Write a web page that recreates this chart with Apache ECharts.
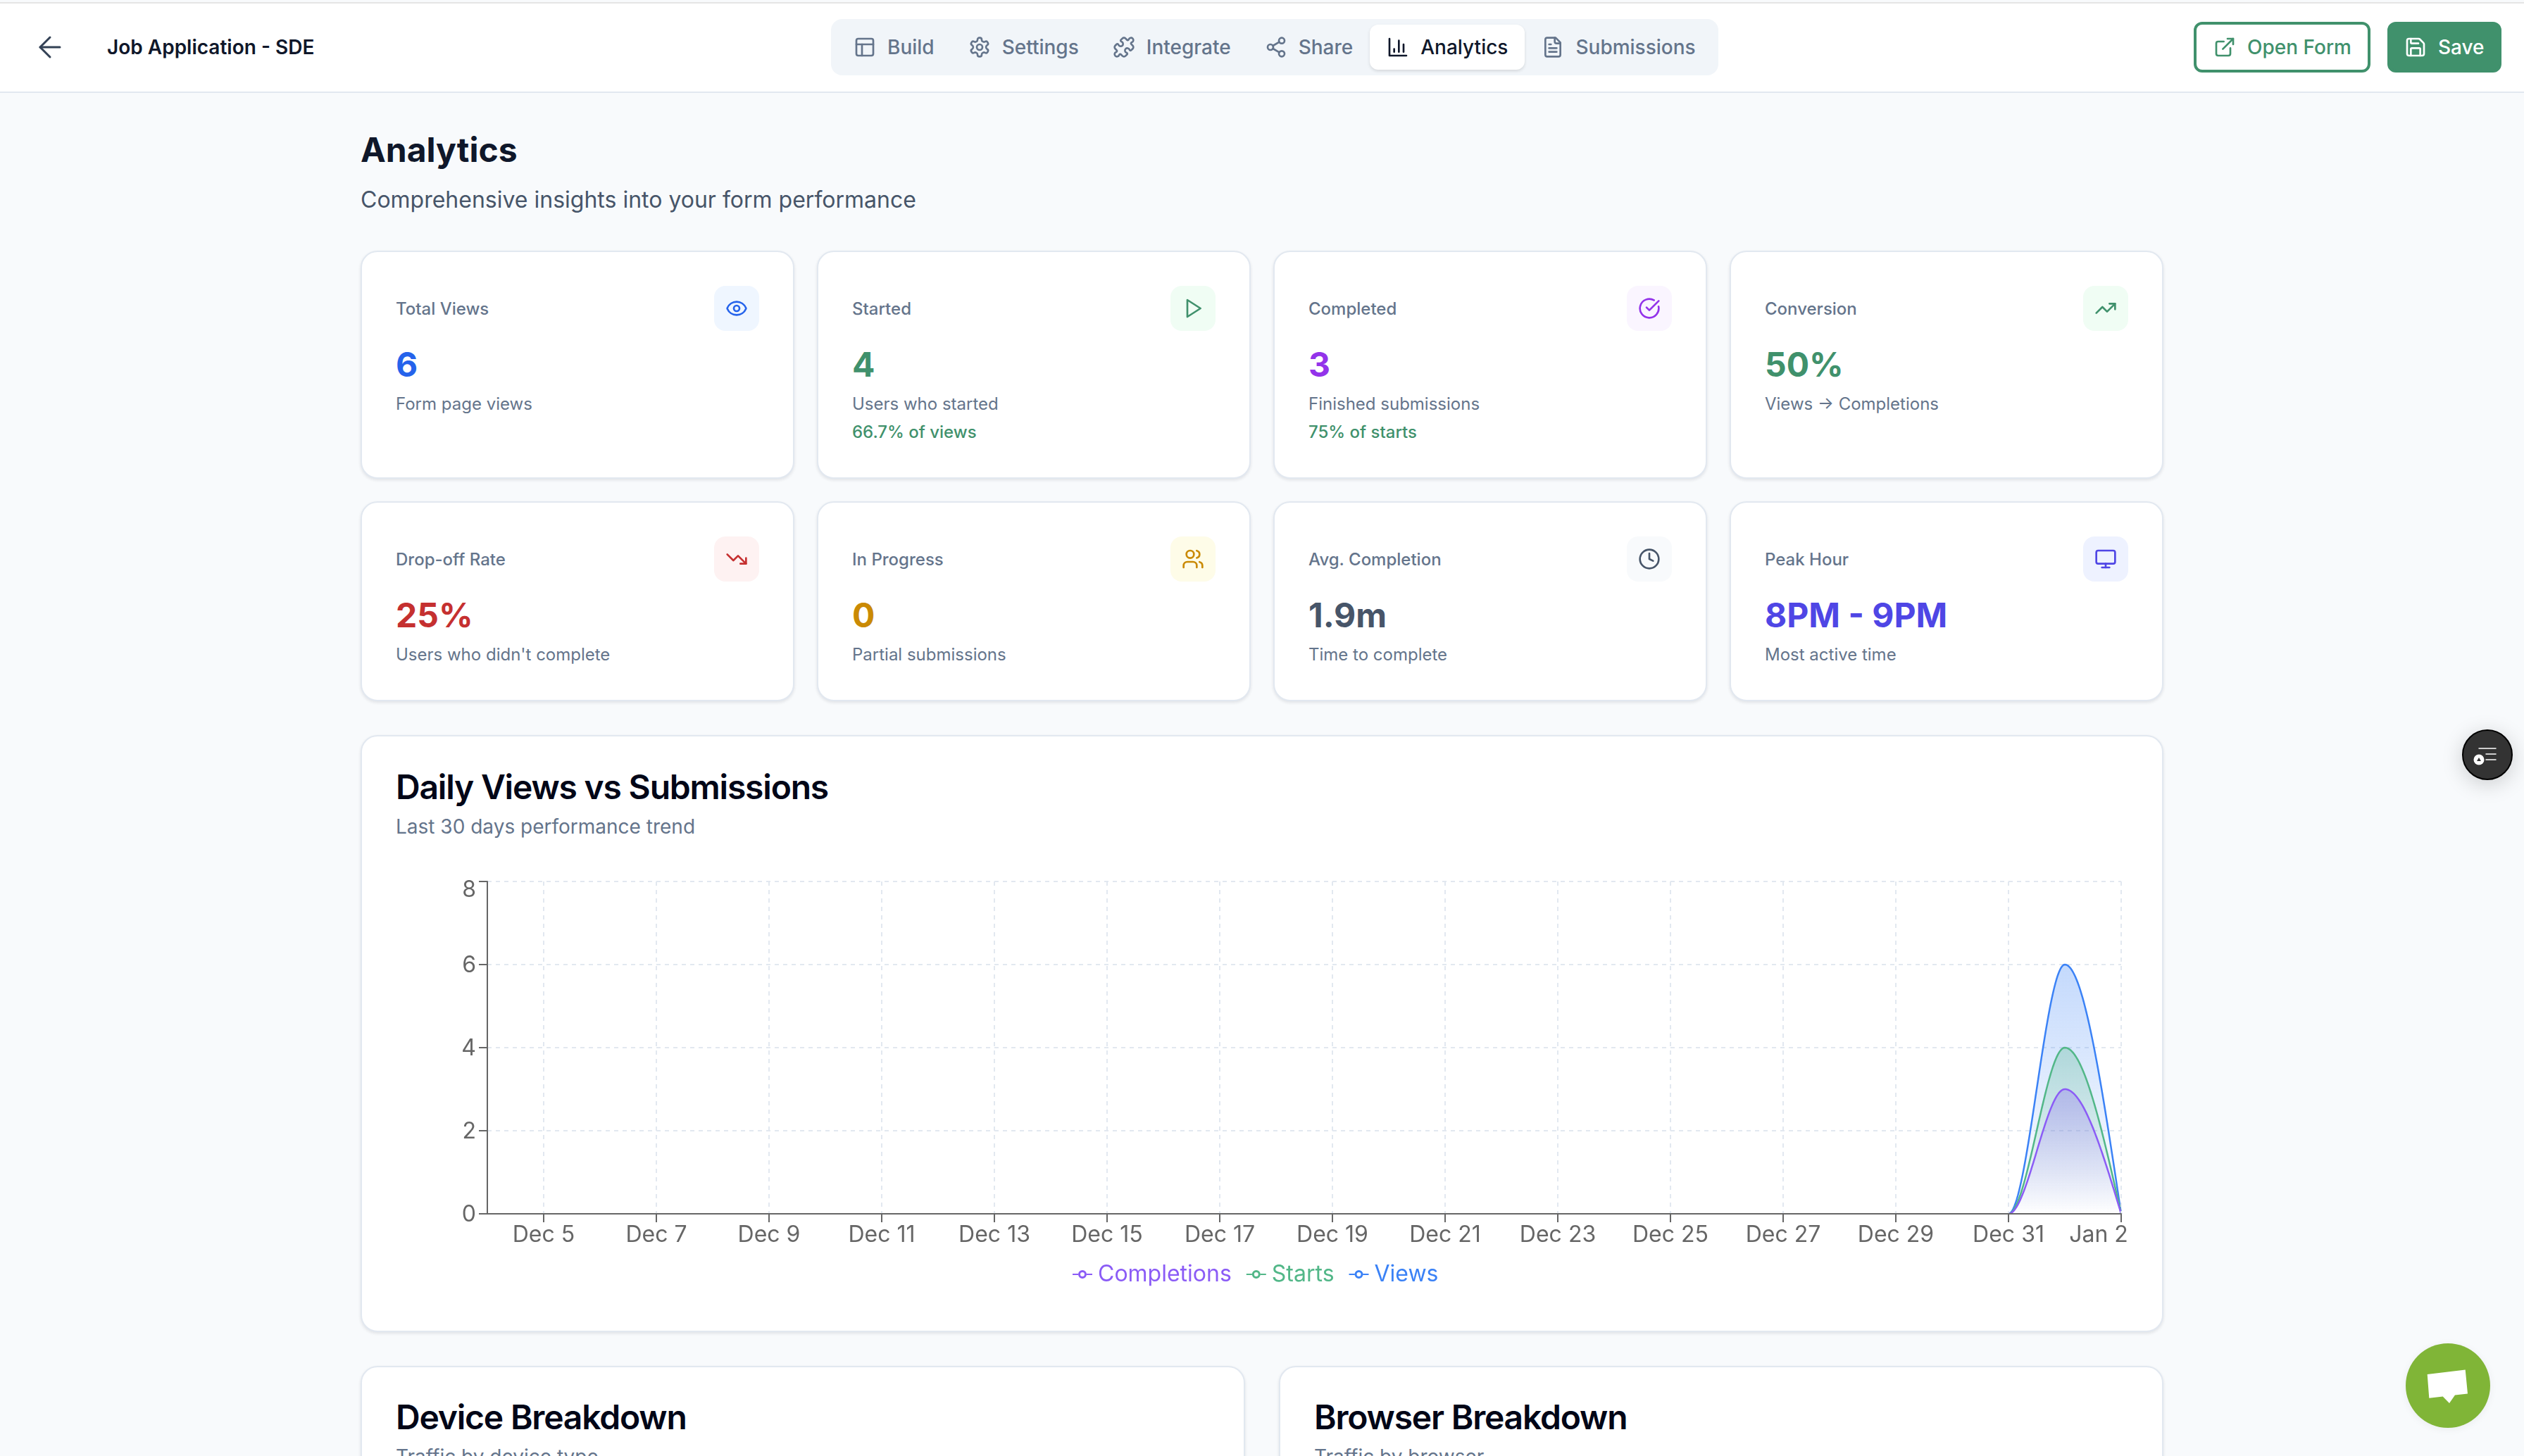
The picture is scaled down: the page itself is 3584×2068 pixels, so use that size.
<!DOCTYPE html>
<html>
<head>
<meta charset="utf-8">
<script src="https://cdn.jsdelivr.net/npm/echarts@6/dist/echarts.min.js"></script>
<style>
  * { box-sizing: border-box; }
  html, body { margin: 0; padding: 0; width: 3584px; height: 2068px; overflow: hidden; background: #f8fafc; font-family: Inter, sans-serif; }
  svg { display: block; fill: none; stroke: currentColor; stroke-width: 2; stroke-linecap: round; stroke-linejoin: round; flex: none; }
  .abs { position: absolute; }
  #topbar { left: 0; top: 3px; width: 3584px; height: 129px; background: #fff; border-top: 2px solid #e5e5e5; border-bottom: 2px solid #e2e8f0; margin-top: 0; }
  #back { left: 47px; top: 43px; color: #334155; }
  #back svg { stroke-width: 1.5; }
  #formName { left: 152px; top: 47px; font-size: 28px; line-height: 40px; font-weight: 600; color: #0f172a; }
  #tabs { left: 1180px; top: 27px; height: 80px; padding: 8px; background: #f1f5f9; border-radius: 16px; display: flex; }
  .tab { height: 64px; padding: 0 24px; display: flex; align-items: center; gap: 16px; font-size: 28px; font-weight: 500; color: #64748b; border-radius: 12px; white-space: nowrap; }
  .tab.active { background: #fff; color: #0f172a; box-shadow: 0 2px 4px rgba(0,0,0,.12); }
  .btn { top: 31px; height: 72px; padding: 0 24px; display: flex; align-items: center; gap: 16px; font-size: 28px; font-weight: 500; border-radius: 12px; border: 4px solid #40916c; white-space: nowrap; }
  #openForm { left: 3115px; width: 251px; color: #40916c; background: #fff; padding-left: 24px; }
  #saveBtn { left: 3390px; width: 162px; color: #fff; background: #40916c; padding-left: 20px; }
  #pageTitle { left: 512px; top: 181px; font-size: 48px; line-height: 64px; font-weight: 700; color: #0f172a; }
  #pageSub { left: 512px; top: 260px; font-size: 32px; line-height: 48px; color: #475569; }
  #cards { left: 512px; top: 356px; width: 2560px; display: grid; grid-template-columns: repeat(4, 616px); grid-template-rows: 324px 284px; gap: 32px; }
  .card { background: #fff; border: 2px solid #e2e8f0; border-radius: 24px; box-shadow: 0 2px 4px rgba(15,23,42,.1); }
  .stat { padding: 48px; }
  .statHead { display: flex; align-items: center; justify-content: space-between; height: 64px; font-size: 24px; font-weight: 500; color: #64748b; }
  .iconBox { width: 64px; height: 64px; border-radius: 16px; display: flex; align-items: center; justify-content: center; }
  .statValue { margin-top: 16px; font-size: 48px; line-height: 64px; font-weight: 700; }
  .statSub { margin-top: 4px; font-size: 24px; line-height: 40px; color: #64748b; }
  .statExtra { font-size: 24px; line-height: 40px; color: #40916c; font-weight: 500; }
  #chartCard { left: 512px; top: 1044px; width: 2560px; height: 848px; }
  #chartTitle { left: 562px; top: 1086px; font-size: 48px; line-height: 64px; font-weight: 600; color: #020617; letter-spacing: -1.2px; }
  #chartSub { left: 562px; top: 1154px; font-size: 28px; line-height: 40px; color: #64748b; }
  #chart { left: 512px; top: 1044px; width: 2560px; height: 848px; }
  #deviceCard { left: 512px; top: 1940px; width: 1256px; height: 400px; }
  #browserCard { left: 1816px; top: 1940px; width: 1256px; height: 400px; }
  .lowTitle { top: 1981px; font-size: 48px; line-height: 64px; font-weight: 600; color: #020617; letter-spacing: -1.2px; }
  .lowSub { top: 2049px; font-size: 28px; line-height: 40px; color: #64748b; }
  #helper { left: 3496px; top: 1036px; width: 72px; height: 72px; border-radius: 50%; background: #333; border: 2px solid #000; box-shadow: 0 6px 30px rgba(0,0,0,.18); color: #fff; display: flex; align-items: center; justify-content: center; }
  #chatBtn { left: 3416px; top: 1908px; width: 120px; height: 120px; border-radius: 50%; background: #80b537; box-shadow: 0 2px 12px rgba(0,0,0,.06); }
</style>
</head>
<body>
<div id="topbar" class="abs"></div>
<div id="back" class="abs"></div>
<div id="formName" class="abs">Job Application - SDE</div>
<div id="tabs" class="abs"></div>
<div id="openForm" class="abs btn"></div>
<div id="saveBtn" class="abs btn"></div>
<div id="pageTitle" class="abs">Analytics</div>
<div id="pageSub" class="abs">Comprehensive insights into your form performance</div>
<div id="cards" class="abs"></div>
<div id="chartCard" class="abs card"></div>
<div id="chartTitle" class="abs">Daily Views vs Submissions</div>
<div id="chartSub" class="abs">Last 30 days performance trend</div>
<div id="chart" class="abs"></div>
<div id="deviceCard" class="abs card"></div>
<div id="browserCard" class="abs card"></div>
<div class="abs lowTitle" style="left:562px">Device Breakdown</div>
<div class="abs lowSub" style="left:562px">Traffic by device type</div>
<div class="abs lowTitle" style="left:1866px">Browser Breakdown</div>
<div class="abs lowSub" style="left:1866px">Traffic by browser</div>
<div id="helper" class="abs">
  <svg width="44" height="44" viewBox="0 0 44 44" style="stroke-width:1.5"><path d="M10 13H34M20 21H34M20 29H34"/><circle cx="10" cy="29" r="7.5" fill="#fff" stroke="none"/><path d="M7 31L10 26L13 31Z" fill="#333" stroke="none"/></svg>
</div>
<div id="chatBtn" class="abs">
  <svg width="120" height="120" viewBox="0 0 120 120" style="stroke:none"><path d="M30.7 44L84.7 37.5L88 71.6L70 73.6L62 85L52.7 75.6L33.3 77.7Z" fill="#fff"/></svg>
</div>
<script>
const days = ['Dec 4','Dec 5','Dec 6','Dec 7','Dec 8','Dec 9','Dec 10','Dec 11','Dec 12','Dec 13','Dec 14','Dec 15','Dec 16','Dec 17','Dec 18','Dec 19','Dec 20','Dec 21','Dec 22','Dec 23','Dec 24','Dec 25','Dec 26','Dec 27','Dec 28','Dec 29','Dec 30','Dec 31','Jan 1','Jan 2']
const views =       [0,0,0,0,0,0,0,0,0,0,0,0,0,0,0,0,0,0,0,0,0,0,0,0,0,0,0,0,6,0]
const starts =      [0,0,0,0,0,0,0,0,0,0,0,0,0,0,0,0,0,0,0,0,0,0,0,0,0,0,0,0,4,0]
const completions = [0,0,0,0,0,0,0,0,0,0,0,0,0,0,0,0,0,0,0,0,0,0,0,0,0,0,0,0,3,0]
const yTicks = [0, 2, 4, 6, 8]

const statLabels = ['Total Views','Started','Completed','Conversion','Drop-off Rate','In Progress','Avg. Completion','Peak Hour']
const statValues = ['6','4','3','50%','25%','0','1.9m','8PM - 9PM']
const statSubs = ['Form page views','Users who started','Finished submissions','Views → Completions',"Users who didn't complete",'Partial submissions','Time to complete','Most active time']
const statExtras = ['','66.7% of views','75% of starts','','','','','']
const statColors = ['#2563eb','#40916c','#9333ea','#40916c','#c53030','#ca8a04','#475569','#4f46e5']
const statBoxes = ['#eff6ff','#f0fdf4','#faf5ff','#f0fdf4','#fef2f2','#fefce8','#f8fafc','#eef2ff']

const icon = (inner, size = 32) => `<svg width="${size}" height="${size}" viewBox="0 0 24 24">${inner}</svg>`
const icons = {
  back: '<path d="m12 19-7-7 7-7"/><path d="M19 12H5"/>',
  build: '<rect x="3" y="3" width="18" height="18" rx="2"/><path d="M3 9h18"/><path d="M9 21V9"/>',
  settings: '<path d="M12.22 2h-.44a2 2 0 0 0-2 2v.18a2 2 0 0 1-1 1.73l-.43.25a2 2 0 0 1-2 0l-.15-.08a2 2 0 0 0-2.73.73l-.22.38a2 2 0 0 0 .73 2.73l.15.1a2 2 0 0 1 1 1.72v.51a2 2 0 0 1-1 1.74l-.15.09a2 2 0 0 0-.73 2.73l.22.38a2 2 0 0 0 2.73.73l.15-.08a2 2 0 0 1 2 0l.43.25a2 2 0 0 1 1 1.73V20a2 2 0 0 0 2 2h.44a2 2 0 0 0 2-2v-.18a2 2 0 0 1 1-1.73l.43-.25a2 2 0 0 1 2 0l.15.08a2 2 0 0 0 2.73-.73l.22-.39a2 2 0 0 0-.73-2.73l-.15-.08a2 2 0 0 1-1-1.74v-.5a2 2 0 0 1 1-1.74l.15-.09a2 2 0 0 0 .73-2.73l-.22-.38a2 2 0 0 0-2.73-.73l-.15.08a2 2 0 0 1-2 0l-.43-.25a2 2 0 0 1-1-1.73V4a2 2 0 0 0-2-2z"/><circle cx="12" cy="12" r="3"/>',
  puzzle: '<path d="M19.439 7.85c-.049.322.059.648.289.878l1.568 1.568c.47.47.706 1.087.706 1.704s-.235 1.233-.706 1.704l-1.611 1.611a.98.98 0 0 1-.837.276c-.47-.07-.802-.48-.968-.925a2.501 2.501 0 1 0-3.214 3.214c.446.166.855.497.925.968a.979.979 0 0 1-.276.837l-1.61 1.61a2.404 2.404 0 0 1-1.705.707 2.402 2.402 0 0 1-1.704-.706l-1.568-1.568a1.026 1.026 0 0 0-.877-.29c-.493.074-.84.504-1.02.968a2.5 2.5 0 1 1-3.237-3.237c.464-.18.894-.527.967-1.02a1.026 1.026 0 0 0-.289-.877l-1.568-1.568A2.402 2.402 0 0 1 1.998 12c0-.617.236-1.234.706-1.704L4.23 8.77c.24-.24.581-.353.917-.303.515.077.877.528 1.073 1.01a2.5 2.5 0 1 0 3.259-3.259c-.482-.196-.933-.558-1.01-1.073-.05-.336.062-.676.303-.917l1.525-1.525A2.402 2.402 0 0 1 12 1.998c.617 0 1.234.236 1.704.706l1.568 1.568c.23.23.556.338.877.29.493-.074.84-.504 1.02-.968a2.5 2.5 0 1 1 3.237 3.237c-.464.18-.894.527-.967 1.02Z"/>',
  share: '<circle cx="18" cy="5" r="3"/><circle cx="6" cy="12" r="3"/><circle cx="18" cy="19" r="3"/><path d="M8.59 13.51 15.42 17.49"/><path d="M15.41 6.51 8.59 10.49"/>',
  analytics: '<path d="M3 3v18h18"/><path d="M18 17V9"/><path d="M13 17V5"/><path d="M8 17v-3"/>',
  file: '<path d="M15 2H6a2 2 0 0 0-2 2v16a2 2 0 0 0 2 2h12a2 2 0 0 0 2-2V7Z"/><path d="M14 2v4a2 2 0 0 0 2 2h4"/><path d="M10 9H8"/><path d="M16 13H8"/><path d="M16 17H8"/>',
  external: '<path d="M15 3h6v6"/><path d="M10 14 21 3"/><path d="M18 13v6a2 2 0 0 1-2 2H5a2 2 0 0 1-2-2V8a2 2 0 0 1 2-2h6"/>',
  save: '<path d="M15.2 3a2 2 0 0 1 1.4.6l3.8 3.8a2 2 0 0 1 .6 1.4V19a2 2 0 0 1-2 2H5a2 2 0 0 1-2-2V5a2 2 0 0 1 2-2z"/><path d="M17 21v-7a1 1 0 0 0-1-1H8a1 1 0 0 0-1 1v7"/><path d="M7 3v4a1 1 0 0 0 1 1h7"/>',
  eye: '<path d="M2.062 12.348a1 1 0 0 1 0-.696 10.75 10.75 0 0 1 19.876 0 1 1 0 0 1 0 .696 10.75 10.75 0 0 1-19.876 0"/><circle cx="12" cy="12" r="3"/>',
  play: '<polygon points="6 3 20 12 6 21 6 3"/>',
  check: '<path d="M21.801 10A10 10 0 1 1 17 3.335"/><path d="m9 11 3 3L22 4"/>',
  up: '<path d="M22 7 13.5 15.5 8.5 10.5 2 17"/><path d="M16 7h6v6"/>',
  down: '<path d="M22 17 13.5 8.5 8.5 13.5 2 7"/><path d="M16 17h6v-6"/>',
  users: '<path d="M16 21v-2a4 4 0 0 0-4-4H6a4 4 0 0 0-4 4v2"/><circle cx="9" cy="7" r="4"/><path d="M22 21v-2a4 4 0 0 0-3-3.87"/><path d="M16 3.13a4 4 0 0 1 0 7.75"/>',
  clock: '<circle cx="12" cy="12" r="10"/><path d="M12 6v6l4 2"/>',
  monitor: '<rect x="2" y="3" width="20" height="14" rx="2"/><path d="M8 21h8"/><path d="M12 17v4"/>',
}
const tabNames = ['Build','Settings','Integrate','Share','Analytics','Submissions']
const tabIcons = ['build','settings','puzzle','share','analytics','file']
const statIcons = ['eye','play','check','up','down','users','clock','monitor']

document.getElementById('back').innerHTML = icon(icons.back, 48)
document.getElementById('tabs').innerHTML = tabNames.map((name, i) =>
  `<div class="tab${name === 'Analytics' ? ' active' : ''}">${icon(icons[tabIcons[i]])}<span>${name}</span></div>`).join('')
document.getElementById('openForm').innerHTML = icon(icons.external) + '<span>Open Form</span>'
document.getElementById('saveBtn').innerHTML = icon(icons.save) + '<span>Save</span>'
document.getElementById('cards').innerHTML = statLabels.map((label, i) => `
  <div class="card stat">
    <div class="statHead"><span>${label}</span><div class="iconBox" style="background:${statBoxes[i]};color:${statColors[i]}">${icon(icons[statIcons[i]])}</div></div>
    <div class="statValue" style="color:${statColors[i]}">${statValues[i]}</div>
    <div class="statSub">${statSubs[i]}</div>
    ${statExtras[i] ? `<div class="statExtra">${statExtras[i]}</div>` : ''}
  </div>`).join('')

// same curve as d3 monotoneX, the tangents are worked out in pixels from api.coord
const monotonePoints = (pts) => {
  const n = pts.length
  const slopes = []
  for (let i = 0; i < n - 1; i++) slopes.push((pts[i + 1][1] - pts[i][1]) / (pts[i + 1][0] - pts[i][0]))
  const tangents = new Array(n).fill(0)
  for (let i = 1; i < n - 1; i++) {
    const s0 = slopes[i - 1], s1 = slopes[i]
    const h = pts[i + 1][0] - pts[i - 1][0]
    const p = (s0 + s1) * (pts[i][0] - pts[i - 1][0]) / h
    tangents[i] = (Math.sign(s0) + Math.sign(s1)) * Math.min(Math.abs(s0), Math.abs(s1), 0.5 * Math.abs(p)) || 0
  }
  tangents[0] = (3 * slopes[0] - tangents[1]) / 2
  tangents[n - 1] = (3 * slopes[n - 2] - tangents[n - 2]) / 2
  const out = [pts[0]]
  for (let i = 0; i < n - 1; i++) {
    const [x0, y0] = pts[i], [x1, y1] = pts[i + 1]
    if (y0 === y1 && tangents[i] === 0 && tangents[i + 1] === 0) { out.push(pts[i + 1]); continue }
    const d = (x1 - x0) / 3
    const c0 = y0 + d * tangents[i], c1 = y1 - d * tangents[i + 1]
    for (let k = 1; k <= 48; k++) {
      const t = k / 48, u = 1 - t
      out.push([x0 + (x1 - x0) * t, u * u * u * y0 + 3 * u * u * t * c0 + 3 * u * t * t * c1 + t * t * t * y1])
    }
  }
  return out
}

const areaSeries = (name, values, color, rgb) => ({
  name,
  type: 'custom',
  coordinateSystem: 'cartesian2d',
  itemStyle: { color },
  data: values.map((v, i) => [i, v]),
  encode: { x: 0, y: 1 },
  clip: false,
  renderItem: (params, api) => {
    if (params.dataIndex !== 0) return null
    const line = monotonePoints(values.map((v, i) => api.coord([i, v])))
    const base = api.coord([0, 0])[1]
    const first = line[0], last = line[line.length - 1]
    // the flat run on zero stays under the axis line, so the stroke starts where the curve leaves it
    const rising = line.findIndex((p) => p[1] < base - 0.01)
    return {
      type: 'group',
      children: [{
        type: 'polygon',
        shape: { points: [[first[0], base], ...line, [last[0], base]] },
        style: {
          fill: new echarts.graphic.LinearGradient(0, 0, 0, 1, [
            { offset: 0, color: `rgba(${rgb},0.3)` },
            { offset: 1, color: `rgba(${rgb},0)` },
          ]),
        },
      }, {
        type: 'polyline',
        shape: { points: line.slice(Math.max(rising - 1, 0)) },
        style: { fill: null, stroke: color, lineWidth: 2.5 },
      }],
    }
  },
})

const legendIcon = 'path://M0 6H8V8H0Z M20 6H28V8H20Z M8 7A6 6 0 1 1 20 7A6 6 0 1 1 8 7Z M11 7A3 3 0 1 0 17 7A3 3 0 1 0 11 7Z'
const legendItem = (name, color) => ({ name, icon: legendIcon, itemStyle: { color, borderWidth: 0 }, textStyle: { color } })

const renderChart = () => {
  const chart = echarts.init(document.getElementById('chart'))
  const oddOnly = (index) => index % 2 === 1
  const topTick = yTicks[yTicks.length - 1]
  chart.setOption({
    animation: false,
    textStyle: { fontFamily: 'Inter' },
    grid: { left: 180, right: 60, top: 208, bottom: 168 },
    legend: {
      left: 1006,
      top: 745,
      itemWidth: 28,
      itemHeight: 12,
      itemGap: 21,
      selectedMode: false,
      textStyle: { fontSize: 32, fontFamily: 'Inter', padding: [0, 0, 0, 3] },
      data: [legendItem('Completions', '#8b5cf6'), legendItem('Starts', '#52b788'), legendItem('Views', '#3b82f6')],
    },
    xAxis: {
      type: 'category',
      data: days,
      boundaryGap: false,
      z: 5,
      axisLine: { lineStyle: { color: '#666', width: 2 } },
      axisTick: { interval: oddOnly, length: 12, lineStyle: { color: '#666', width: 2 } },
      axisLabel: {
        interval: oddOnly,
        margin: 14,
        color: '#666',
        fontSize: 32,
        fontFamily: 'Inter',
        formatter: (value, index) => index === days.length - 1 ? `{last|${value}}` : value,
        rich: { last: { color: '#666', fontSize: 32, fontFamily: 'Inter', padding: [0, 64, 0, 0] } },
      },
      splitLine: { show: true, interval: oddOnly, lineStyle: { color: '#e2e8f0', width: 2, type: [6, 6] } },
    },
    yAxis: {
      type: 'value',
      min: yTicks[0],
      max: topTick,
      interval: 2,
      axisLine: { show: true, onZero: false, lineStyle: { color: '#666', width: 2 } },
      axisTick: { show: true, length: 12, lineStyle: { color: '#666', width: 2 } },
      axisLabel: {
        margin: 16,
        color: '#666',
        fontSize: 32,
        fontFamily: 'Inter',
        padding: [3, 0, 0, 0],
        // the top label sits under its tick in the original
        formatter: (value) => value === topTick ? `{top|${value}}` : `${value}`,
        rich: { top: { color: '#666', fontSize: 32, fontFamily: 'Inter', padding: [21, 0, 0, 0] } },
      },
      splitLine: { show: true, lineStyle: { color: '#e2e8f0', width: 2, type: [6, 6] } },
    },
    series: [
      areaSeries('Views', views, '#3b82f6', '59,130,246'),
      areaSeries('Starts', starts, '#52b788', '82,183,136'),
      areaSeries('Completions', completions, '#8b5cf6', '139,92,246'),
    ],
  })
}

document.addEventListener('DOMContentLoaded', renderChart)
</script>
</body>
</html>
